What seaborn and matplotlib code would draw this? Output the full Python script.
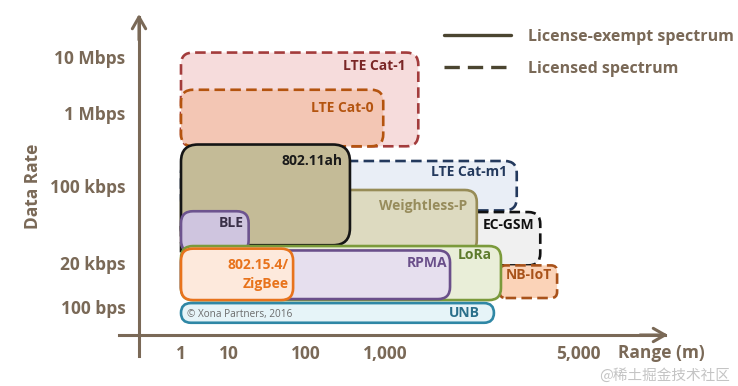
import numpy as np
import pandas as pd
import matplotlib
matplotlib.use("Agg")
import matplotlib.pyplot as plt
import seaborn as sns
from matplotlib.patches import FancyBboxPatch
from matplotlib.transforms import IdentityTransform
from matplotlib.lines import Line2D

sns.set_theme(style="white")
plt.rcParams['font.family'] = ['Open Sans', 'Noto Sans CJK SC', 'DejaVu Sans']

# ---------------- data ----------------
range_ticks = [1, 10, 100, 1000, 5000]
range_tick_labels = ["1", "10", "100", "1,000", "5,000"]
rate_ticks = [1e2, 2e4, 1e5, 1e6, 1e7]
rate_tick_labels = ["100 bps", "20 kbps", "100 kbps", "1 Mbps", "10 Mbps"]

techs = ["LTE Cat-1", "LTE Cat-0", "LTE Cat-m1", "EC-GSM", "Weightless-P",
         "802.11ah", "BLE", "NB-IoT", "LoRa", "RPMA", "802.15.4/\nZigBee", "UNB"]
range_min = [1, 1, 1, 1, 1, 1, 1, 2600, 1, 1, 1, 1]              # m
range_max = [1320, 950, 3000, 3650, 2150, 360, 18, 4200, 2630, 1720, 68, 2480]
rate_min = [350e3, 350e3, 60e3, 15e3, 25e3, 29e3, 25e3, 295, 230, 260, 230, 15]   # bps
rate_max = [12e6, 2.6e6, 220e3, 58e3, 92e3, 370e3, 59e3, 15e3, 28.5e3, 26e3, 27e3, 160]
licensed = [True, True, True, True, False, False, False, True, False, False, False, False]

legend_labels = ["License-exempt spectrum", "Licensed spectrum"]

df = pd.DataFrame({"tech": techs, "rmin": range_min, "rmax": range_max,
                   "dmin": rate_min, "dmax": rate_max, "licensed": licensed})

# ---------------- schematic axis scales (page layout of the tick values) ----------------
xu = np.array([-5, 0, 1, 2, 3, np.log10(5000), 6])
xp = np.array([181 - 5 * 48, 181, 229, 306, 385, 578, 578 + (6 - np.log10(5000)) * 276])
yu = np.array([-4, 2, np.log10(2e4), 5, 6, 7, 10])
yp = np.array([79 - 6 * 19.13, 79, 123, 200, 273, 329, 329 + 3 * 56])


def xf(v):
    return np.interp(np.log10(np.clip(np.asarray(v, float), 1e-12, None)), xu, xp)


def xi(p):
    return 10 ** np.interp(np.asarray(p, float), xp, xu)


def yf(v):
    return np.interp(np.log10(np.clip(np.asarray(v, float), 1e-12, None)), yu, yp)


def yi(p):
    return 10 ** np.interp(np.asarray(p, float), yp, yu)


W, H = 738, 386
fig = plt.figure(figsize=(W / 100, H / 100), dpi=100)
ax = fig.add_axes([0, 0, 1, 1])
ax.set_facecolor("none")
ax.set_xscale("function", functions=(xf, xi))
ax.set_yscale("function", functions=(yf, yi))
ax.set_xlim(xi(0), xi(W))
ax.set_ylim(yi(0), yi(H))

axc = "#7a6957"

# ---------------- styles ----------------
style = {
    "LTE Cat-1":    dict(ec="#a33c3c", fc="#f6dcdc", tc="#7a2626", r=12, dx=13, dy=13),
    "LTE Cat-0":    dict(ec="#b4540f", fc="#f3c6b4", tc="#b4540f", r=12, dx=10, dy=18),
    "LTE Cat-m1":   dict(ec="#23395d", fc="#e9eef6", tc="#23395d", r=12, dx=10, dy=11),
    "EC-GSM":       dict(ec="#111111", fc="#f0f0f0", tc="#111111", r=12, dx=6, dy=13),
    "Weightless-P": dict(ec="#978c57", fc="#dddac0", tc="#978c5c", r=12, dx=10, dy=16),
    "802.11ah":     dict(ec="#151515", fc="#c4bb97", tc="#1a1a1a", r=17, dx=7, dy=16),
    "BLE":          dict(ec="#6d548f", fc="#cfc5df", tc="#3a3048", r=12, dx=5, dy=12),
    "NB-IoT":       dict(ec="#a8521a", fc="#fbd3b8", tc="#a8521a", r=6, dx=5, dy=10),
    "LoRa":         dict(ec="#7b9a3b", fc="#e9eed8", tc="#5e7b2c", r=12, dx=9, dy=9),
    "RPMA":         dict(ec="#6a4f8a", fc="#e6dfee", tc="#6a4f8a", r=12, dx=3, dy=13),
    "802.15.4/\nZigBee": dict(ec="#e8731c", fc="#fde9dc", tc="#e8731c", r=12, dx=4, dy=26),
    "UNB":          dict(ec="#2f87a5", fc="#e6f4f8", tc="#2a6f8a", r=10, dx=14, dy=10),
}

for i, row in df.iterrows():
    s = style[row.tech]
    (x0, y0) = ax.transData.transform((row.rmin, row.dmin))
    (x1, y1) = ax.transData.transform((row.rmax, row.dmax))
    w, h = x1 - x0, y1 - y0
    r = min(s["r"], h / 2, w / 2)
    ls = (0, (4, 2)) if row.licensed else "-"
    patch = FancyBboxPatch((x0, y0), w, h,
                           boxstyle=f"round,pad=0,rounding_size={r}",
                           transform=IdentityTransform(), fc=s["fc"], ec=s["ec"],
                           lw=1.9, ls=ls, zorder=2 + i * 0.1, joinstyle="round")
    ax.add_patch(patch)
    ax.text(x1 - s["dx"], y1 - s["dy"], row.tech, transform=IdentityTransform(),
            ha="right", va="center", fontsize=10, fontweight="bold", color=s["tc"],
            linespacing=1.45, zorder=10)
    if row.tech == "UNB":
        ax.text(x0 + 6, (y0 + y1) / 2 - 2, "© Xona Partners, 2016",
                transform=IdentityTransform(), ha="left", va="center",
                fontsize=7.2, color="#6b6b6b", zorder=10)

# ---------------- axes ----------------
x_axis_at = xi(139)
y_axis_at = yi(H - 335)
for side in ["top", "right"]:
    ax.spines[side].set_visible(False)
ax.spines["left"].set_position(("data", x_axis_at))
ax.spines["bottom"].set_position(("data", y_axis_at))
ax.spines["left"].set_bounds(yi(H - 356), yi(H - 17))
ax.spines["bottom"].set_bounds(xi(119), xi(665))
for side in ["left", "bottom"]:
    ax.spines[side].set_color(axc)
    ax.spines[side].set_linewidth(2.2)
    ax.spines[side].set_zorder(1)

ax.set_xticks(range_ticks, range_tick_labels, fontsize=12.5, fontweight="bold")
ax.set_yticks(rate_ticks, rate_tick_labels, fontsize=12.5, fontweight="bold")
ax.tick_params(axis="both", direction="inout", length=11.5, width=2.2,
               color=axc, labelcolor=axc)
ax.tick_params(axis="x", pad=1.5)
ax.tick_params(axis="y", pad=4)
ax.grid(False)

ax.annotate("", xy=(x_axis_at, yi(H - 14)), xytext=(x_axis_at, yi(H - 40)),
            arrowprops=dict(arrowstyle="->,head_length=0.7,head_width=0.4",
                            lw=2.2, color=axc, shrinkA=0, shrinkB=0))
ax.annotate("", xy=(xi(668), y_axis_at), xytext=(xi(640), y_axis_at),
            arrowprops=dict(arrowstyle="->,head_length=0.7,head_width=0.4",
                            lw=2.2, color=axc, shrinkA=0, shrinkB=0))

fig.text(661 / W, 1 - 353 / H, "Range (m)", ha="center", va="center",
         fontsize=12.5, fontweight="bold", color=axc)
fig.text(33 / W, 1 - 186 / H, "Data Rate", ha="center", va="center", rotation=90,
         fontsize=12.5, fontweight="bold", color=axc)

# ---------------- legend ----------------
lc = "#4b4530"
handles = [Line2D([], [], color=lc, lw=2.4, ls="-"),
           Line2D([], [], color=lc, lw=2.4, ls=(0, (4.6, 2.4)))]
leg = ax.legend(handles, legend_labels, loc="upper left",
                bbox_to_anchor=(444 / W, 1 - 29 / H), frameon=False,
                fontsize=11.5, handlelength=4.2, handletextpad=1.05,
                labelspacing=1.0, borderpad=0, borderaxespad=0)
for t in leg.get_texts():
    t.set_color(axc)
    t.set_fontweight("bold")

fig.text(730 / W, 1 - 375 / H, "@稀土掘金技术社区", ha="right", va="center",
         fontsize=10.5, color="#c4c4c4", family=["Noto Sans CJK SC", "DejaVu Sans"])

fig.savefig("out.png", dpi=100)
